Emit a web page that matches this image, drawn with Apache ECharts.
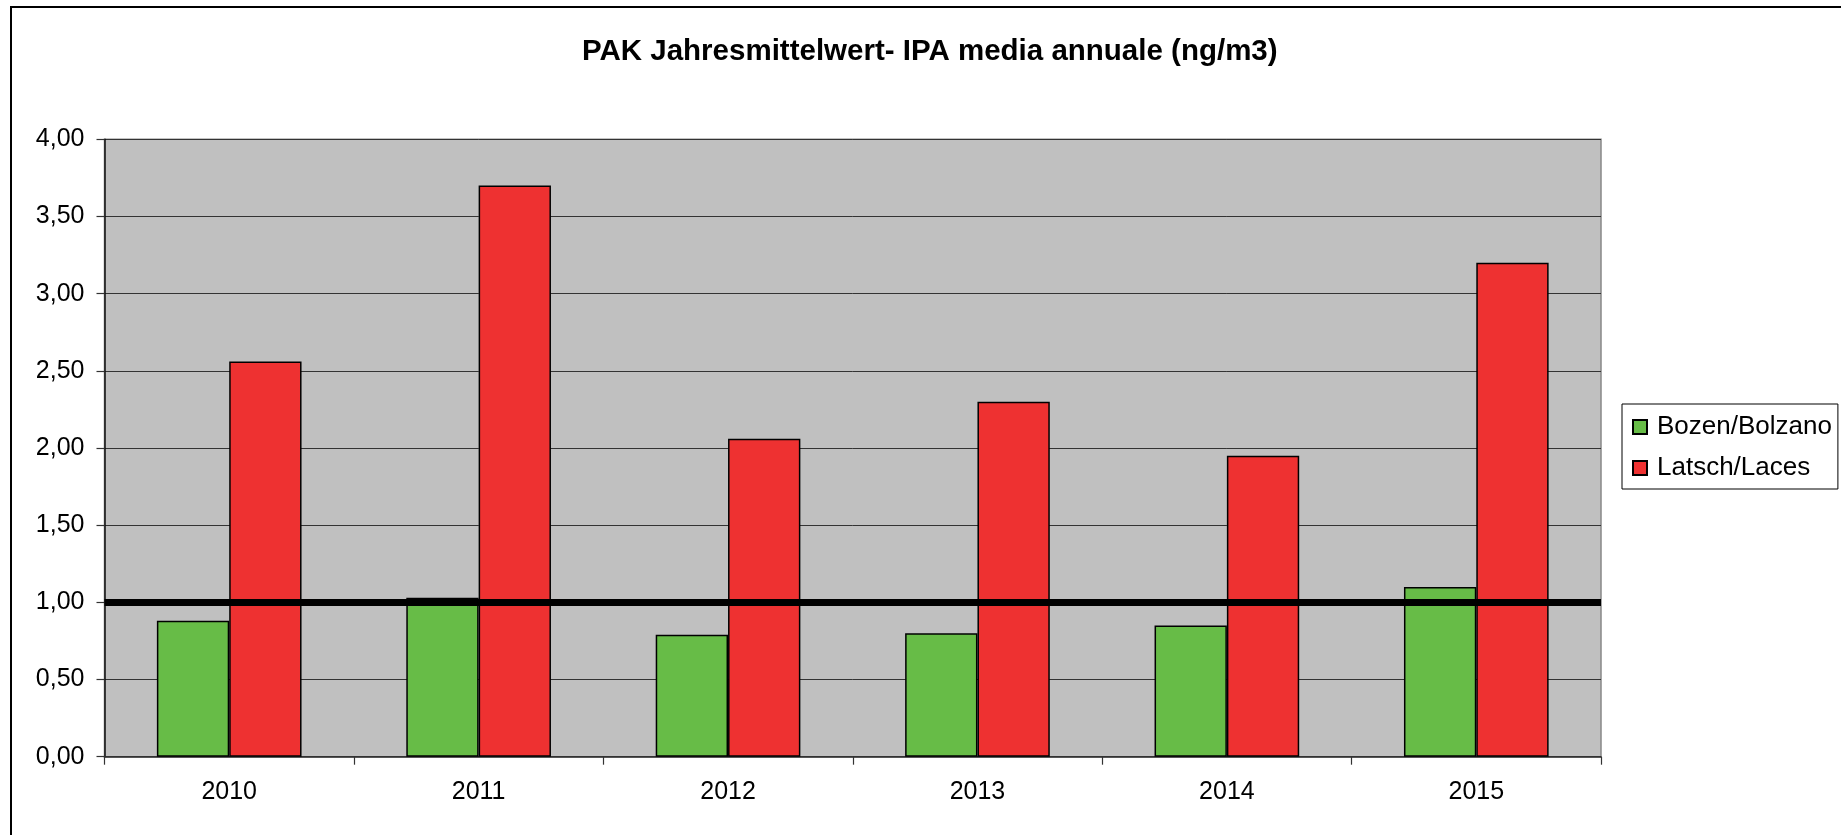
<!DOCTYPE html>
<html>
<head>
<meta charset="utf-8">
<script src="https://cdn.jsdelivr.net/npm/echarts@6/dist/echarts.min.js"></script>
<style>
  html, body { margin: 0; padding: 0; background: #fff; }
  #frame { position: absolute; left: 10px; top: 6px; right: -10px; bottom: -10px; border-top: 2px solid #000; border-left: 2px solid #000; box-sizing: border-box; pointer-events: none; }
  #chart { position: absolute; left: 0; top: 0; width: 1841px; height: 835px; }
</style>
</head>
<body>
<div id="chart"></div>
<div id="frame"></div>
<script>
const titleText = 'PAK Jahresmittelwert- IPA media annuale (ng/m3)';
const years = ['2010', '2011', '2012', '2013', '2014', '2015'];
const bozen = [0.88, 1.03, 0.79, 0.80, 0.85, 1.10];
const latsch = [2.56, 3.70, 2.06, 2.30, 1.95, 3.20];
const seriesNames = ['Bozen/Bolzano', 'Latsch/Laces'];
const limitValue = 1.0;
const yTicks = { min: 0, max: 4, interval: 0.5 };

const fontFam = '"Liberation Sans", Arial, sans-serif';
const chart = echarts.init(document.getElementById('chart'), null, { renderer: 'canvas' });
chart.setOption({
  animation: false,
  backgroundColor: 'transparent',
  title: {
    text: titleText,
    left: 582,
    top: 37,
    padding: 0,
    textStyle: { fontFamily: fontFam, fontSize: 29.5, fontWeight: 'bold', color: '#000' }
  },
  grid: {
    left: 104.5, right: 240, top: 139.3, bottom: 78.3,
    show: true, backgroundColor: '#C0C0C0', borderColor: '#888', borderWidth: 1.5,
    containLabel: false
  },
  legend: {
    orient: 'vertical',
    left: 1622, top: 404,
    data: seriesNames,
    borderColor: '#000', borderWidth: 1,
    padding: [9, 6, 7, 10],
    itemWidth: 14, itemHeight: 14, itemGap: 13,
    icon: 'rect',
    textStyle: { fontFamily: fontFam, fontSize: 26, color: '#000', lineHeight: 28, padding: [0, 0, 0, 5] }
  },
  xAxis: {
    type: 'category',
    data: years,
    boundaryGap: true,
    axisLine: { lineStyle: { color: '#333', width: 1.5 } },
    axisTick: { show: true, length: 8, inside: false, lineStyle: { color: '#333', width: 1.2 } },
    axisLabel: { fontFamily: fontFam, fontSize: 25, color: '#000', margin: 23 },
    splitLine: { show: false }
  },
  yAxis: {
    type: 'value',
    min: yTicks.min, max: yTicks.max, interval: yTicks.interval,
    axisLine: { show: true, lineStyle: { color: '#111', width: 1.5 } },
    axisTick: { show: true, length: 8, lineStyle: { color: '#333', width: 1.2 } },
    axisLabel: {
      fontFamily: fontFam, fontSize: 25, color: '#000', margin: 20,
      formatter: v => v.toFixed(2).replace('.', ',')
    },
    splitLine: { show: true, lineStyle: { color: '#333', width: 1 } }
  },
  series: [
    {
      name: seriesNames[0], type: 'bar', data: bozen,
      barGap: '0%', barCategoryGap: '42%',
      itemStyle: { color: '#67BC47', borderColor: '#000', borderWidth: 1.5 }
    },
    {
      name: seriesNames[1], type: 'bar', data: latsch,
      barGap: '0%', barCategoryGap: '42%',
      itemStyle: { color: '#EE3131', borderColor: '#000', borderWidth: 1.5 }
    },
    {
      name: 'limit', type: 'line', data: [],
      markLine: {
        silent: true, symbol: 'none', label: { show: false },
        lineStyle: { color: '#000', width: 7, type: 'solid' },
        data: [{ yAxis: limitValue }]
      },
      z: 5
    }
  ]
});
</script>
</body>
</html>
